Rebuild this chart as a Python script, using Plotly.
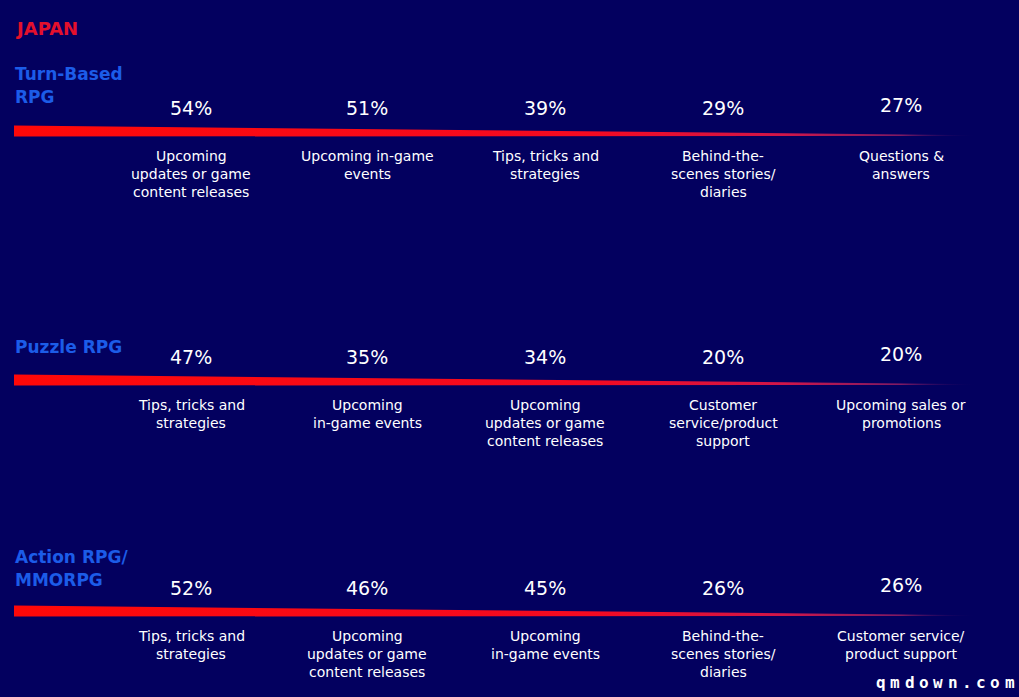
import plotly.graph_objects as go

# ---------------- data ----------------
title_text = "JAPAN"
genres = ["Turn-Based<br>RPG", "Puzzle RPG", "Action RPG/<br>MMORPG"]

turn_based_values = [54, 51, 39, 29, 27]
turn_based_labels = [
    "Upcoming<br>updates or game<br>content releases",
    "Upcoming in-game<br>events",
    "Tips, tricks and<br>strategies",
    "Behind-the-<br>scenes stories/<br>diaries",
    "Questions &<br>answers",
]

puzzle_values = [47, 35, 34, 20, 20]
puzzle_labels = [
    "Tips, tricks and<br>strategies",
    "Upcoming<br>in-game events",
    "Upcoming<br>updates or game<br>content releases",
    "Customer<br>service/product<br>support",
    "Upcoming sales or<br>promotions",
]

action_values = [52, 46, 45, 26, 26]
action_labels = [
    "Tips, tricks and<br>strategies",
    "Upcoming<br>updates or game<br>content releases",
    "Upcoming<br>in-game events",
    "Behind-the-<br>scenes stories/<br>diaries",
    "Customer service/<br>product support",
]

watermark = "qmdown.com"

rows_values = [turn_based_values, puzzle_values, action_values]
rows_labels = [turn_based_labels, puzzle_labels, action_labels]

# ---------------- layout constants ----------------
W, H = 1019, 697
BG = "#03005f"
BLUE = "#1c5ce8"
FONT = "DejaVu Sans"

slot_x = [191, 367, 545, 723, 901]
line_y = [131, 380, 611]          # centre of the red taper per row
genre_y = [74, 347, 557]          # centre of first genre line
line_x0, line_x1 = 14, 978
LINE_H = 18
GENRE_LH = 22.5

fig = go.Figure()

# tapered gradient lines
for ly in line_y:
    top0, bot0 = ly - 5.5, ly + 5.5
    top1, bot1 = ly + 4.2, ly + 5.0
    fig.add_trace(go.Scatter(
        x=[line_x0, line_x1, line_x1, line_x0, line_x0],
        y=[top0, top1, bot1, bot0, top0],
        mode="none",
        fill="toself",
        fillgradient=dict(
            type="horizontal",
            colorscale=[
                [0.0, "#ff0808"],
                [0.6, "#f40a22"],
                [0.8, "#d0164a"],
                [0.92, "rgba(150,30,100,0.85)"],
                [1.0, "rgba(3,0,95,0)"],
            ],
        ),
        hoverinfo="skip",
        showlegend=False,
    ))

annotations = []
annotations.append(dict(
    x=13, y=28, xref="x", yref="y", text=f"<b>{title_text}</b>",
    showarrow=False, xanchor="left", yanchor="middle",
    font=dict(family=FONT, size=18, color="#e4102c"),
))

for r, (vals, labs) in enumerate(zip(rows_values, rows_labels)):
    for k, gl in enumerate(genres[r].split("<br>")):
        annotations.append(dict(
            x=13, y=genre_y[r] + k * GENRE_LH, xref="x", yref="y",
            text=f"<b>{gl}</b>",
            showarrow=False, xanchor="left", yanchor="middle",
            font=dict(family=FONT, size=17, color=BLUE),
        ))
    for i, (v, lab) in enumerate(zip(vals, labs)):
        dy = -3 if i == 4 else 0
        annotations.append(dict(
            x=slot_x[i], y=line_y[r] - 23 + dy, xref="x", yref="y",
            text=f"{v}%", showarrow=False, xanchor="center", yanchor="middle",
            font=dict(family=FONT, size=19, color="white"),
        ))
        for k, ln in enumerate(lab.split("<br>")):
            annotations.append(dict(
                x=slot_x[i], y=line_y[r] + 25 + k * LINE_H, xref="x", yref="y",
                text=ln, showarrow=False, xanchor="center", yanchor="middle",
                font=dict(family=FONT, size=14, color="white"),
            ))

for i, ch in enumerate(watermark):
    annotations.append(dict(
        x=881 + i * 14.3, y=682, xref="x", yref="y", text=f"<b>{ch}</b>",
        showarrow=False, xanchor="center", yanchor="middle",
        font=dict(family="DejaVu Sans Mono", size=16, color="white"),
    ))

fig.update_layout(
    width=W, height=H,
    margin=dict(l=0, r=0, t=0, b=0),
    paper_bgcolor=BG, plot_bgcolor=BG,
    xaxis=dict(range=[0, W], visible=False, fixedrange=True),
    yaxis=dict(range=[H, 0], visible=False, fixedrange=True),
    annotations=annotations,
    showlegend=False,
)

fig.write_html(
    "out.html",
    config={"displayModeBar": False},
    post_script="document.body.style.margin='0';document.body.style.background='#03005f';",
)
